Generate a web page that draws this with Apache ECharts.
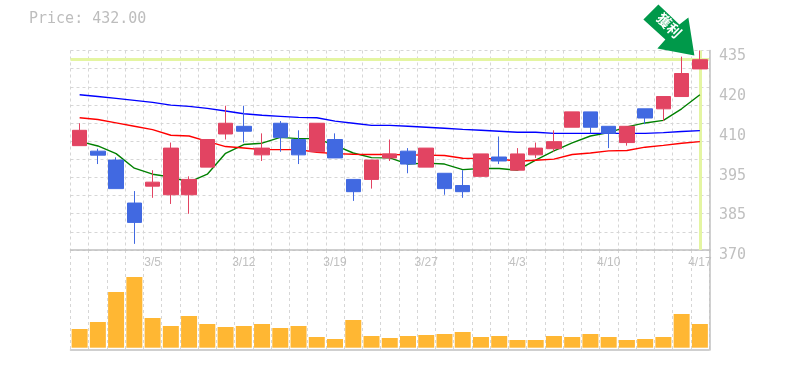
<!DOCTYPE html>
<html><head><meta charset="utf-8">
<style>html,body{margin:0;padding:0;background:#fff}#c{width:785px;height:370px}</style>
<script src="https://cdn.jsdelivr.net/npm/echarts@6/dist/echarts.min.js"></script>
</head><body><div id="c"></div>
<script>
const categories=['2/27','2/28','3/1','3/4','3/5','3/6','3/7','3/8','3/11','3/12','3/13','3/14','3/15','3/18','3/19','3/20','3/22','3/25','3/26','3/27','3/28','3/29','4/1','4/2','4/3','4/4','4/5','4/8','4/9','4/10','4/11','4/12','4/15','4/16','4/17'];
const opens=[404,402.2,399.3,385.3,390.8,388,388,397,407.8,410.3,401,411.3,406,402,406,393,393,400,402.2,397,395,391,394,400.3,396,401,403,410,415,410.3,405,416,416,420,429];
const closes=[409,400.9,390,379,392.1,403.2,393,406,411.3,408.7,403.2,406.7,401,411.3,400,389,399.3,401.3,398,403.2,390,389,401.3,399,401.3,403.2,405.3,415,410,408,410.3,413,420,427.5,432];
const lows=[404,398,390,372,387,385,381.8,397,406,405,399,402,398,402,400,386,390,399,395,397,388,387,394,398,396,400,402,410,408,403.2,404,411,412,420,429];
const highs=[411.3,403,400.2,389.2,396,405,394,406,417,417,408,412,409,411.3,408,393,399.3,406,403.2,403.2,395,396,401.3,407,403.2,405,409,415,415,410.3,410.3,416,420,433,435];
const maShort=[405.4,403.9,401.4,396.65,394.7,393.8,392.1,394.7,401.5,404.35,404.8,406.7,406.3,406.3,404.1,401.6,400.1,400,398,398.3,398,396.2,396.55,396.55,396,399.25,402.3,404.9,407.15,408.25,410.1,411.4,412.25,416,420.6];
const maMid=[413.1,412.5,411.4,410.3,409.2,407.4,407.15,405.4,403.7,403.25,402.7,402.7,402.7,401.85,401.4,401.2,401.1,401.1,401,400.9,400.8,399.9,399.8,399.7,398.9,399.25,399.6,401.1,401.6,402.3,402.4,403.5,404.1,404.8,405.3];
const maLong=[420.6,420,419.4,418.75,418.1,417.2,416.8,416.15,415.3,414.4,413.9,413.55,413.2,413.1,412,411.3,410.6,410.6,410.3,410,409.65,409.3,409,408.7,408.35,408.35,408,408,408,408,408,408,408.25,408.6,408.9];
const volumes=[18.7,25.7,55.7,70.7,29.7,21.7,31.7,23.7,20.7,21.7,23.7,19.7,21.7,10.7,8.7,27.7,11.7,9.7,11.7,12.7,13.7,15.7,10.7,11.7,7.7,7.7,11.7,10.7,13.7,10.7,7.7,8.7,10.7,33.7,23.7];
const priceTicks=['370','385','395','410','420','435'];
const lastPrice=432, priceTitle='Price: 432.00', arrowText='獲利';

const GREY='#c0c0c0', GRID='#d6d6d6', RED='#e24462', BLUE='#4169e1', HI='#e4f5a2';
const dash=[3,3];
const chart=echarts.init(document.getElementById('c'),null,{renderer:'canvas'});
const last=categories[categories.length-1];
function xax(grid,labels){return {
  type:'category',gridIndex:grid,data:categories,boundaryGap:true,
  axisLine:{show:true,onZero:false,lineStyle:{color:GREY,width:1.5}},
  axisTick:{show:false},
  axisLabel:labels?{show:true,interval:(i)=>i%5===4,margin:7,color:'#c0c0c0',fontFamily:'Liberation Sans',fontSize:12}:{show:false},
  splitLine:{show:true,interval:0,lineStyle:{color:GRID,type:dash,width:1}}
};}
chart.setOption({
  animation:false,
  backgroundColor:'#fff',
  title:{text:priceTitle,left:24,top:7,textStyle:{fontFamily:'DejaVu Sans Mono',fontSize:15,fontWeight:'normal',color:'#bdbdbd'}},
  grid:[{left:70.5,right:76,top:50.5,height:199.5},{left:70.5,right:76,top:250,height:100}],
  xAxis:[xax(0,true),xax(1,false)],
  yAxis:[
    {type:'value',gridIndex:0,min:370,max:435,show:false,splitLine:{show:false}},
    {type:'value',gridIndex:0,min:0,max:11,interval:1,position:'left',axisLine:{show:false},axisTick:{show:false},axisLabel:{show:false},
      splitLine:{show:true,lineStyle:{color:GRID,type:dash,width:1}}},
    {type:'value',gridIndex:0,min:0,max:5,interval:1,position:'right',offset:1,
      axisLine:{show:true,lineStyle:{color:GREY,width:1.5}},axisTick:{show:false},splitLine:{show:false},
      axisLabel:{show:true,margin:9,color:'#c0c0c0',fontFamily:'DejaVu Sans Mono',fontSize:15,verticalAlign:'top',lineHeight:11,
        formatter:(v)=>priceTicks[v]}},
    {type:'value',gridIndex:1,min:-2.3,max:97.7,position:'right',offset:1,
      axisLine:{show:true,lineStyle:{color:GREY,width:1.5}},axisTick:{show:false},axisLabel:{show:false},splitLine:{show:false}}
  ],
  series:[
    {type:'line',xAxisIndex:0,yAxisIndex:0,data:[],z:1,silent:true,
      markLine:{silent:true,symbol:'none',z:1,label:{show:false},lineStyle:{color:HI,width:3,type:'solid'},
        data:[{yAxis:lastPrice},{xAxis:last}]}},
    {name:'short',type:'line',xAxisIndex:0,yAxisIndex:0,data:maShort,symbol:'none',z:2,lineStyle:{color:'#008000',width:1.4}},
    {name:'mid',type:'line',xAxisIndex:0,yAxisIndex:0,data:maMid,symbol:'none',z:2,lineStyle:{color:'#ff0000',width:1.4}},
    {name:'long',type:'line',xAxisIndex:0,yAxisIndex:0,data:maLong,symbol:'none',z:2,lineStyle:{color:'#0000ff',width:1.4}},
    {type:'candlestick',xAxisIndex:0,yAxisIndex:0,z:3,barWidth:15,
      data:categories.map((_,i)=>[opens[i],closes[i],lows[i],highs[i]]),
      itemStyle:{color:RED,color0:BLUE,borderColor:RED,borderColor0:BLUE,borderWidth:1},
      markPoint:{silent:true,z:5,data:[{coord:[last,435],
        symbol:'path://M15 0 L36 20 L45 13 L51 51 L14 44 L22 35 L0 15 Z',
        symbolSize:[51,51],symbolOffset:[-31,-20.5],
        itemStyle:{color:'#00994a'},
        label:{show:true,position:'inside',formatter:arrowText,rotate:-45,offset:[-3,-3.5],color:'#fff',
          fontFamily:'Noto Sans CJK TC',fontWeight:'bold',fontSize:14}}]}},
    {type:'bar',xAxisIndex:1,yAxisIndex:3,data:volumes,barWidth:16,itemStyle:{color:'#ffb733'},z:3}
  ]
});
</script></body></html>
